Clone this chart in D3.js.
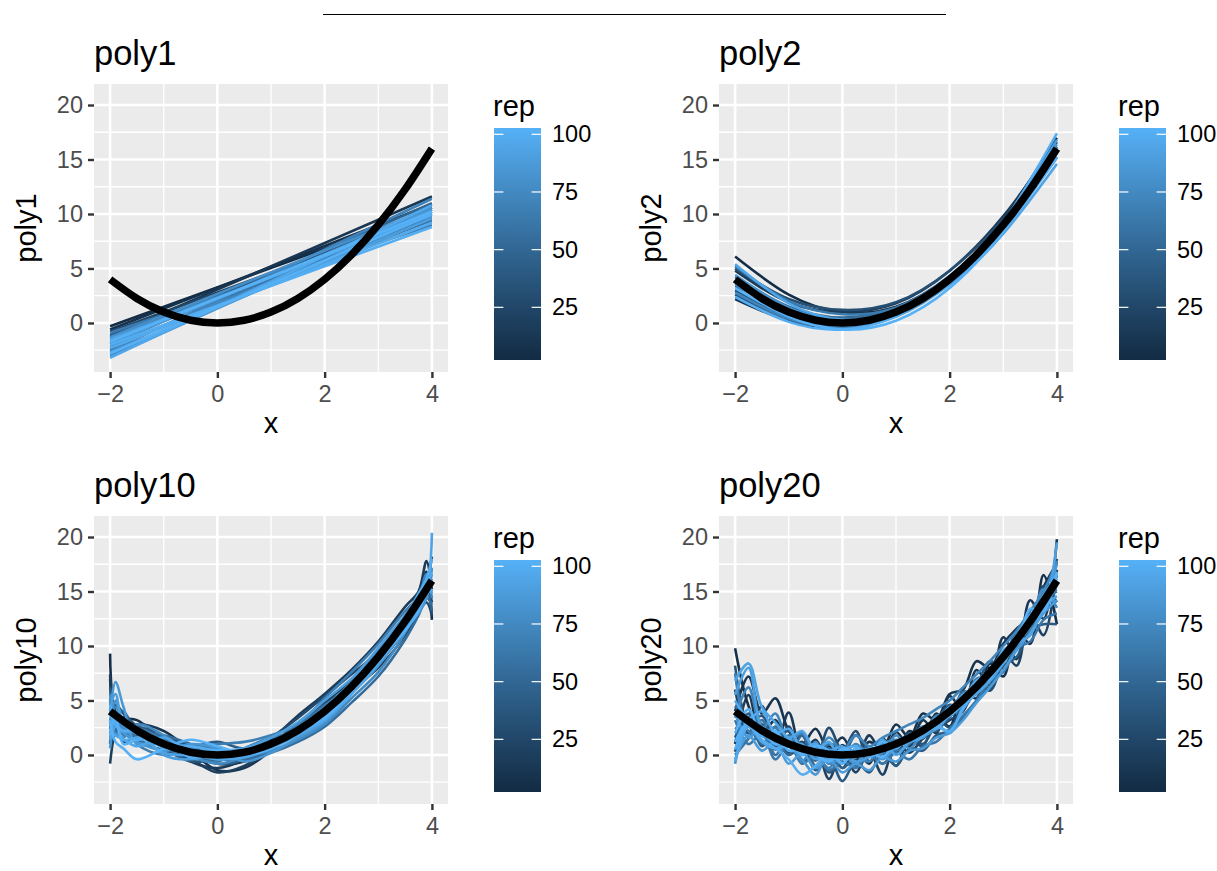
<!DOCTYPE html>
<html>
<head>
<meta charset="utf-8">
<script src="https://cdn.jsdelivr.net/npm/d3@7"></script>
<style>
  body { margin: 0; background: #fff; }
  svg { display: block; font-family: "Liberation Sans", Arial, Helvetica, sans-serif; }
</style>
</head>
<body>
<div id="viz"></div>
<script>
// ticks and labels
const xTicks = [-2, 0, 2, 4];
const xMinor = [-1, 1, 3];
const yTicks = [0, 5, 10, 15, 20];
const yMinor = [-2.5, 2.5, 7.5, 12.5, 17.5];
const legendTicks = [25, 50, 75, 100];
const panelNames = ["poly1", "poly2", "poly10", "poly20"];

// the true curve (black)
const truthX = [-2, -1.5, -1, -0.5, 0, 0.5, 1, 1.5, 2, 2.5, 3, 3.5, 4];
const truthY = [4, 2.25, 1, 0.25, 0, 0.25, 1, 2.25, 4, 6.25, 9, 12.25, 16];

// poly1 fits (value at x = -2 and x = 4)
const poly1X = [-2, 4];
const poly1Reps = [2, 6, 11, 17, 23, 29, 35, 41, 47, 53, 58, 63, 68, 72, 76, 80, 84, 87, 90, 93, 95, 97, 99, 100];
const poly1Lines = [
  [-0.3, 10.4], [-0.6, 10.9], [-1.2, 11.6], [-1.8, 10.6], [-0.8, 10.0], [-1.4, 10.4],
  [-2.4, 10.2], [-1.1, 9.6], [-2.0, 11.0], [-2.9, 10.6], [-1.6, 9.4], [-0.9, 9.0],
  [-2.6, 11.4], [-2.2, 9.8], [-1.3, 10.6], [-3.1, 10.2], [-1.9, 10.4], [-2.7, 9.6],
  [-1.5, 9.9], [-3.2, 10.8], [-2.3, 9.2], [-2.0, 8.8], [-2.8, 10.0], [-1.7, 10.2]
];

// poly2 fits
const poly2X = [-2, -1, 0, 1, 2, 3, 4];
const poly2Reps = [3, 9, 15, 22, 30, 38, 46, 54, 62, 70, 78, 86, 92, 97, 100];
const poly2Lines = [
  [6.1, 2.6, 1.0, 1.5, 4.2, 8.8, 15.2],
  [2.2, 0.2, -0.4, 0.8, 4.1, 9.5, 17.0],
  [4.8, 1.9, 1.0, 1.8, 4.8, 9.8, 16.6],
  [3.0, 0.6, 0.0, 1.2, 4.2, 9.1, 15.8],
  [5.0, 2.2, 1.2, 1.9, 4.8, 9.5, 15.6],
  [2.6, 0.3, -0.3, 0.8, 3.8, 8.8, 15.2],
  [4.2, 1.5, 0.5, 1.4, 4.3, 9.2, 16.2],
  [3.4, 1.2, 0.4, 1.3, 4.3, 9.2, 16.1],
  [5.2, 2.0, 0.8, 1.4, 4.2, 9.0, 15.8],
  [2.8, 0.4, -0.4, 0.6, 3.6, 8.6, 15.6],
  [4.4, 1.4, 0.2, 1.0, 4.0, 9.0, 16.4],
  [3.6, 0.8, -0.2, 0.8, 3.9, 9.1, 16.8],
  [5.4, 1.8, 0.3, 0.9, 3.5, 8.2, 14.6],
  [2.4, 0.1, -0.6, 0.6, 3.8, 9.2, 17.4],
  [3.2, 0.6, -0.6, 0.2, 3.2, 8.4, 15.2]
];

// poly10 fits
const poly10X = [-2, -1.9, -1.75, -1.5, -1, -0.5, 0, 0.5, 1, 1.5, 2, 2.5, 3, 3.5, 3.75, 3.9, 4];
const poly10Reps = [4, 10, 18, 25, 33, 40, 47, 55, 62, 70, 78, 84, 90, 95, 100, 65, 73, 81, 87, 92, 97, 99, 14, 52];
const poly10Lines = [
  [9.3, 4.0, 3.4, 3.2, 1.4, 0.2, -0.8, -0.6, 0.8, 2.8, 4.6, 6.4, 8.4, 11.8, 14.6, 16.8, 12.4],
  [7.0, 3.0, 2.2, 2.8, 2.2, 0.4, -1.4, -1.2, 0.4, 2.6, 4.8, 6.8, 8.8, 11.6, 13.8, 15.6, 18.2],
  [-0.8, 2.2, 3.5, 1.4, 0.4, -0.4, -1.6, -1.0, 0.6, 2.0, 3.6, 6.0, 8.0, 11.0, 13.4, 15.8, 14.0],
  [5.0, 3.2, 1.2, 1.8, 1.6, 0.8, -0.2, 0.2, 1.6, 3.4, 5.4, 7.4, 9.4, 12.0, 13.2, 14.0, 12.8],
  [3.0, 4.6, 3.8, 2.6, 0.6, -0.6, -0.4, -0.4, 0.6, 2.4, 4.0, 6.0, 8.8, 12.6, 14.8, 16.2, 17.0],
  [6.2, 3.0, 2.0, 2.6, 1.6, 0.8, 1.2, 0.6, 1.2, 2.8, 4.4, 6.0, 8.4, 11.4, 13.2, 15.4, 15.0],
  [1.0, 3.8, 4.0, 2.0, 0.8, 0.4, -0.8, -0.4, 1.0, 2.2, 4.2, 6.8, 9.6, 12.8, 14.4, 15.0, 13.2],
  [4.2, 2.4, 2.8, 1.6, 0.4, 0.6, 0.6, 0.2, 1.2, 2.6, 4.6, 6.2, 8.6, 12.2, 14.6, 15.8, 16.4],
  [2.0, 3.4, 1.8, 2.4, 1.4, -0.2, -0.6, 0.6, 1.6, 2.2, 3.8, 6.6, 9.4, 12.4, 13.6, 14.6, 15.6],
  [5.6, 3.6, 2.4, 1.2, 1.0, 0.8, 0.2, 0.0, 0.6, 2.4, 4.4, 6.6, 8.8, 11.6, 14.2, 16.6, 14.4],
  [2.8, 5.0, 2.6, 2.2, 0.8, 0.2, 0.6, -0.2, 0.8, 2.0, 3.8, 6.4, 9.0, 12.4, 13.8, 15.0, 16.2],
  [3.6, 6.7, 4.4, 1.0, 1.2, 0.6, -0.2, 0.4, 1.2, 2.4, 4.2, 6.0, 9.2, 12.0, 14.0, 15.8, 15.4],
  [1.4, 2.6, 2.2, 2.0, 0.2, 0.0, 0.4, 0.4, 0.8, 2.0, 3.6, 6.0, 8.8, 12.4, 14.4, 15.2, 20.4],
  [4.6, 3.2, 1.4, 1.6, 1.2, 0.4, 0.0, 0.0, 1.0, 2.4, 4.0, 6.2, 9.0, 12.2, 13.8, 15.6, 16.8],
  [3.2, 1.2, 0.6, -0.4, 0.6, 1.4, 0.8, 0.2, 0.8, 2.2, 4.2, 6.4, 9.2, 12.0, 14.2, 15.4, 15.8],
  [2.4, 4.4, 3.0, 1.0, 0.0, 0.6, 1.0, 1.2, 1.8, 2.8, 5.2, 7.6, 10.2, 13.2, 14.4, 15.0, 16.0],
  [5.2, 2.0, 1.6, 2.8, 1.8, 0.0, -0.8, -0.2, 0.4, 1.4, 2.8, 5.2, 7.6, 11.2, 13.6, 15.2, 16.6],
  [0.6, 3.0, 2.0, 1.2, 0.4, 1.0, 0.6, -0.6, 0.2, 1.6, 3.0, 5.6, 8.2, 11.6, 13.0, 14.4, 17.2],
  [4.0, 5.6, 3.0, 2.4, 0.0, -0.4, 0.2, 0.6, 1.6, 3.0, 5.0, 7.0, 9.8, 12.8, 14.2, 15.8, 14.8],
  [2.2, 1.8, 1.4, 0.8, 1.6, 0.2, -0.4, -0.2, 0.6, 1.8, 3.2, 5.6, 8.4, 11.8, 13.6, 15.0, 16.0],
  [3.8, 2.8, 2.2, 2.4, 0.6, 0.8, 0.4, 0.6, 1.0, 2.0, 3.8, 6.2, 9.0, 12.6, 14.8, 16.2, 18.0],
  [1.8, 3.6, 1.0, 1.4, 1.2, -0.2, 0.2, 0.0, 0.6, 2.0, 3.4, 5.8, 8.6, 11.4, 13.2, 14.8, 15.2],
  [7.4, 3.6, 2.8, 2.4, 1.0, -0.6, -1.2, -0.4, 1.4, 3.6, 5.6, 7.8, 10.4, 13.6, 15.0, 17.8, 15.2],
  [2.6, 2.0, 3.0, 2.2, 1.8, 1.0, 0.0, -0.4, 0.2, 1.2, 2.6, 4.8, 7.2, 10.6, 12.8, 14.4, 13.8]
];

// poly20 fits
const poly20X = [-2, -1.75, -1.5, -1.25, -1, -0.75, -0.5, -0.25, 0, 0.25, 0.5, 0.75, 1,
                 1.25, 1.5, 1.75, 2, 2.25, 2.5, 2.75, 3, 3.25, 3.5, 3.75, 4];
const poly20Reps = [5, 8, 12, 20, 28, 35, 38, 42, 50, 58, 60, 66, 74, 82, 88, 91, 94, 97, 100, 70, 85, 93, 99];
const poly20Lines = [
  [9.8, 4.5, 2.0, 3.2, 1.0, 1.8, -0.5, 0.8, -1.2, 0.5, -0.8, 1.5, 0.2, 2.2, 1.5, 3.8, 2.6, 5.8, 5.2, 8.4, 7.2, 11.5, 10.2, 16.5, 12.0],
  [4.0, 7.2, 3.8, 5.2, 2.2, 1.0, 2.4, 0.4, 1.6, -0.2, 1.2, 0.6, 2.8, 1.6, 3.8, 3.2, 5.6, 6.0, 8.6, 8.0, 10.2, 11.6, 12.6, 15.4, 17.6],
  [1.0, 5.5, 1.2, 0.8, 3.9, 0.2, 1.4, -0.8, 0.9, -0.5, 1.8, 0.1, 2.1, 0.8, 3.2, 2.0, 5.4, 4.1, 7.8, 6.4, 10.8, 8.8, 14.2, 12.5, 19.8],
  [6.0, 2.0, 4.5, 0.5, 2.6, -0.8, 0.8, -2.2, 0.5, -1.6, 0.3, -1.8, 1.2, 0.2, 1.5, 2.4, 3.2, 4.0, 6.5, 6.0, 9.5, 8.2, 13.0, 11.0, 17.0],
  [0.3, 3.5, 2.8, 1.5, 0.2, 1.2, -0.4, 2.5, 0.4, 2.2, -0.6, 0.8, -1.0, 1.5, 0.8, 3.5, 2.5, 4.8, 6.8, 5.9, 8.6, 10.2, 11.0, 15.5, 14.0],
  [8.2, 3.0, 3.6, 1.6, 2.2, 0.2, 0.6, -1.6, -0.4, 1.8, 0.4, -0.8, 0.6, 2.0, 1.0, 3.0, 4.6, 4.3, 6.2, 8.6, 8.0, 10.5, 11.8, 13.2, 18.0],
  [1.6, 3.8, 0.8, 2.6, 0.0, 0.8, -1.4, -0.2, -2.4, -0.6, -1.6, 0.2, -1.0, 0.6, 0.4, 1.8, 2.2, 3.4, 5.0, 6.4, 8.2, 9.0, 11.4, 12.0, 12.0],
  [2.5, 2.0, 2.5, 0.8, 1.2, 0.0, 0.4, 0.5, -1.2, 0.0, 0.3, 0.1, 1.1, 1.5, 2.6, 2.2, 3.8, 5.2, 6.0, 7.0, 9.5, 10.0, 12.5, 13.5, 16.5],
  [4.5, 2.8, 1.0, 1.4, 0.0, 1.8, -1.0, 0.6, -0.2, 0.2, 0.8, -0.2, 0.6, 1.4, 1.6, 2.6, 3.4, 5.8, 5.6, 7.6, 8.8, 11.2, 12.0, 14.5, 15.2],
  [0.0, 1.5, 3.2, 0.0, 1.8, 0.6, -0.2, 1.0, 0.5, -1.0, 0.2, 0.9, 0.4, 1.0, 2.2, 2.6, 4.4, 4.6, 7.0, 7.2, 9.0, 11.0, 11.4, 14.0, 15.0],
  [3.2, 1.0, 2.0, -0.4, 1.0, -0.8, 0.0, -1.4, -0.6, -1.2, 0.0, -0.8, 0.2, -0.4, 0.8, 1.2, 2.4, 3.6, 5.0, 6.8, 7.6, 9.8, 10.4, 12.4, 13.0],
  [7.5, 2.2, 2.0, 2.5, 0.4, 0.8, 0.2, -1.2, 0.6, 0.0, -0.6, 1.0, 1.4, 1.2, 1.8, 3.6, 3.6, 4.6, 6.4, 7.8, 9.2, 9.8, 12.6, 14.5, 16.8],
  [-0.8, 3.2, 1.8, 1.2, 1.6, -0.6, 1.2, -0.8, -0.2, 1.0, 0.0, 0.2, 1.8, 0.6, 2.0, 3.0, 4.2, 5.0, 6.0, 7.4, 9.6, 10.4, 12.0, 15.2, 13.5],
  [3.8, 1.6, 2.6, 1.0, 0.8, -0.4, -1.8, 0.4, 0.2, -0.8, 0.6, -0.4, 0.8, 1.8, 1.8, 2.4, 4.0, 5.6, 6.2, 7.2, 9.4, 10.6, 12.2, 14.0, 17.5],
  [5.5, 8.0, 2.5, 1.8, 1.0, 1.0, -0.4, 0.2, 0.8, -0.6, -0.2, 0.4, 1.0, 1.8, 2.4, 3.2, 4.0, 5.2, 6.8, 7.6, 9.0, 11.0, 12.8, 13.6, 19.5],
  [6.8, 8.4, 4.4, 3.0, 1.6, 2.2, 0.4, 1.2, -0.8, 0.6, -0.2, 1.4, 0.0, 1.2, 1.6, 2.8, 2.0, 4.4, 5.6, 6.8, 8.4, 10.2, 11.0, 13.4, 14.6],
  [-0.6, 2.6, 1.2, 0.6, 0.8, 0.2, 0.6, -0.4, 0.4, 0.8, -0.2, 0.6, 1.2, 1.4, 2.6, 2.4, 3.8, 5.4, 6.4, 7.8, 8.8, 10.8, 12.6, 13.8, 15.5],
  [0.5, 2.8, 1.4, 0.6, -0.4, -1.8, -1.0, 0.2, -0.4, 0.4, 0.0, 0.6, 0.8, 1.4, 2.0, 2.6, 2.2, 4.2, 6.0, 7.6, 9.0, 10.6, 12.8, 14.0, 16.2],
  [2.0, 4.2, 1.8, 2.2, 0.4, 0.6, 0.0, -0.6, 0.6, 0.2, 0.4, -0.2, 1.2, 1.6, 2.0, 3.4, 3.6, 4.8, 6.6, 7.0, 9.6, 10.2, 13.4, 13.2, 16.8],
  [3.4, 6.2, 2.4, 3.8, 1.2, 2.0, 0.2, 1.6, 0.4, 1.8, 0.8, 1.6, 2.2, 2.8, 3.4, 4.2, 5.0, 6.2, 7.4, 8.6, 10.0, 11.4, 13.2, 15.0, 17.8],
  [-0.4, 1.8, 0.4, 1.2, -0.8, 0.2, -1.2, -0.4, -1.6, -0.8, -1.4, -0.2, -0.6, 0.4, 0.6, 1.6, 2.0, 3.2, 4.8, 6.2, 7.8, 9.6, 11.2, 13.0, 14.2],
  [5.0, 3.4, 4.0, 2.0, 2.4, 0.6, 1.0, -0.6, 0.2, -0.2, 0.6, 0.4, 1.0, 1.2, 1.8, 2.8, 3.6, 4.8, 6.2, 7.8, 9.4, 10.8, 12.2, 14.6, 16.6],
  [1.2, 3.0, 2.4, 1.0, 1.4, 0.0, 0.8, 0.4, -0.8, 0.6, 0.2, 1.2, 0.6, 1.8, 2.2, 3.0, 4.4, 5.0, 6.8, 7.4, 9.2, 10.4, 12.6, 13.6, 15.8]
];

const panelX = [poly1X, poly2X, poly10X, poly20X];
const panelReps = [poly1Reps, poly2Reps, poly10Reps, poly20Reps];
const panelLines = [poly1Lines, poly2Lines, poly10Lines, poly20Lines];

const W = 1217, H = 871;
const svg = d3.select("#viz").append("svg").attr("width", W).attr("height", H);

// title rule on top
svg.append("line")
  .attr("x1", 323).attr("x2", 946)
  .attr("y1", 14.5).attr("y2", 14.5)
  .attr("stroke", "black").attr("stroke-width", 1);

const x = d3.scaleLinear().domain([-2.3, 4.3]).range([94, 448]);
const y = d3.scaleLinear().domain([-4.5, 21.93]).range([372, 84]);
const colour = d3.scaleLinear().domain([1, 100]).range(["#132B43", "#56B1F7"]).interpolate(d3.interpolateLab);
const legendY = d3.scaleLinear().domain([1, 100]).range([362.7, 134.3]);

// gradient for the colour bar
const grad = svg.append("defs").append("linearGradient")
  .attr("id", "repGrad").attr("x1", 0).attr("y1", 1).attr("x2", 0).attr("y2", 0);
d3.range(0, 11).forEach(i => {
  grad.append("stop")
    .attr("offset", i / 10)
    .attr("stop-color", colour(1 + 99 * i / 10));
});

function drawPanel(k) {
  const col = k % 2, row = Math.floor(k / 2);
  const g = svg.append("g").attr("transform", `translate(${col * 625},${row * 432})`);
  const name = panelNames[k];

  // panel background + grid
  g.append("rect")
    .attr("x", x.range()[0]).attr("y", y.range()[1])
    .attr("width", x.range()[1] - x.range()[0])
    .attr("height", y.range()[0] - y.range()[1])
    .attr("fill", "#EBEBEB");

  g.selectAll(".vminor").data(xMinor).join("line")
    .attr("x1", d => x(d)).attr("x2", d => x(d))
    .attr("y1", y.range()[1]).attr("y2", y.range()[0])
    .attr("stroke", "white").attr("stroke-width", 1.3);
  g.selectAll(".hminor").data(yMinor).join("line")
    .attr("y1", d => y(d)).attr("y2", d => y(d))
    .attr("x1", x.range()[0]).attr("x2", x.range()[1])
    .attr("stroke", "white").attr("stroke-width", 1.3);
  g.selectAll(".vmajor").data(xTicks).join("line")
    .attr("x1", d => x(d)).attr("x2", d => x(d))
    .attr("y1", y.range()[1]).attr("y2", y.range()[0])
    .attr("stroke", "white").attr("stroke-width", 2.6);
  g.selectAll(".hmajor").data(yTicks).join("line")
    .attr("y1", d => y(d)).attr("y2", d => y(d))
    .attr("x1", x.range()[0]).attr("x2", x.range()[1])
    .attr("stroke", "white").attr("stroke-width", 2.6);

  // fitted lines, one per rep, drawn in rep order
  const xs = panelX[k];
  const reps = panelReps[k];
  const curve = k === 0 ? d3.curveLinear : (k === 1 ? d3.curveNatural : d3.curveCatmullRom);
  const line = d3.line().x(d => x(d[0])).y(d => y(d[1])).curve(curve);
  const order = d3.range(reps.length).sort((a, b) => reps[a] - reps[b]);
  order.forEach(i => {
    g.append("path")
      .attr("d", line(panelLines[k][i].map((v, j) => [xs[j], v])))
      .attr("fill", "none")
      .attr("stroke", colour(reps[i]))
      .attr("stroke-width", 2.6);
  });

  // truth
  const truthLine = d3.line().x(d => x(d[0])).y(d => y(d[1])).curve(d3.curveNatural);
  g.append("path")
    .attr("d", truthLine(truthX.map((v, j) => [v, truthY[j]])))
    .attr("fill", "none").attr("stroke", "black").attr("stroke-width", 7.5);

  // axes
  const yAxis = g.append("g").attr("transform", `translate(${x.range()[0]},0)`)
    .call(d3.axisLeft(y).tickValues(yTicks).tickSize(6).tickPadding(5));
  const xAxis = g.append("g").attr("transform", `translate(0,${y.range()[0]})`)
    .call(d3.axisBottom(x).tickValues(xTicks).tickSize(6).tickPadding(7)
      .tickFormat(d => d < 0 ? "\u2212" + Math.abs(d) : d));
  [yAxis, xAxis].forEach(a => {
    a.select(".domain").remove();
    a.selectAll(".tick line").attr("stroke", "#333333").attr("stroke-width", 2.4);
    a.selectAll(".tick text").attr("fill", "#4D4D4D")
      .style("font-size", "23.5px").style("font-family", "Liberation Sans, Arial, sans-serif");
  });

  // titles
  g.append("text").attr("x", 94).attr("y", 65)
    .attr("font-size", 34.5).attr("fill", "black").text(name);
  g.append("text").attr("x", (x.range()[0] + x.range()[1]) / 2).attr("y", 433)
    .attr("text-anchor", "middle").attr("font-size", 29).text("x");
  g.append("text")
    .attr("transform", `translate(36,${(y.range()[0] + y.range()[1]) / 2}) rotate(-90)`)
    .attr("text-anchor", "middle").attr("font-size", 29).text(name);

  // legend
  g.append("text").attr("x", 493).attr("y", 116).attr("font-size", 29).text("rep");
  g.append("rect").attr("x", 494).attr("y", 128).attr("width", 47).attr("height", 232)
    .attr("fill", "url(#repGrad)");
  legendTicks.forEach(t => {
    g.append("line").attr("x1", 494).attr("x2", 503.4)
      .attr("y1", legendY(t)).attr("y2", legendY(t))
      .attr("stroke", "white").attr("stroke-width", 1.2);
    g.append("line").attr("x1", 531.6).attr("x2", 541)
      .attr("y1", legendY(t)).attr("y2", legendY(t))
      .attr("stroke", "white").attr("stroke-width", 1.2);
    g.append("text").attr("x", 552).attr("y", legendY(t) + 8)
      .attr("font-size", 23.5).attr("fill", "black").text(t);
  });
}

panelNames.forEach((n, k) => drawPanel(k));
</script>
</body>
</html>
